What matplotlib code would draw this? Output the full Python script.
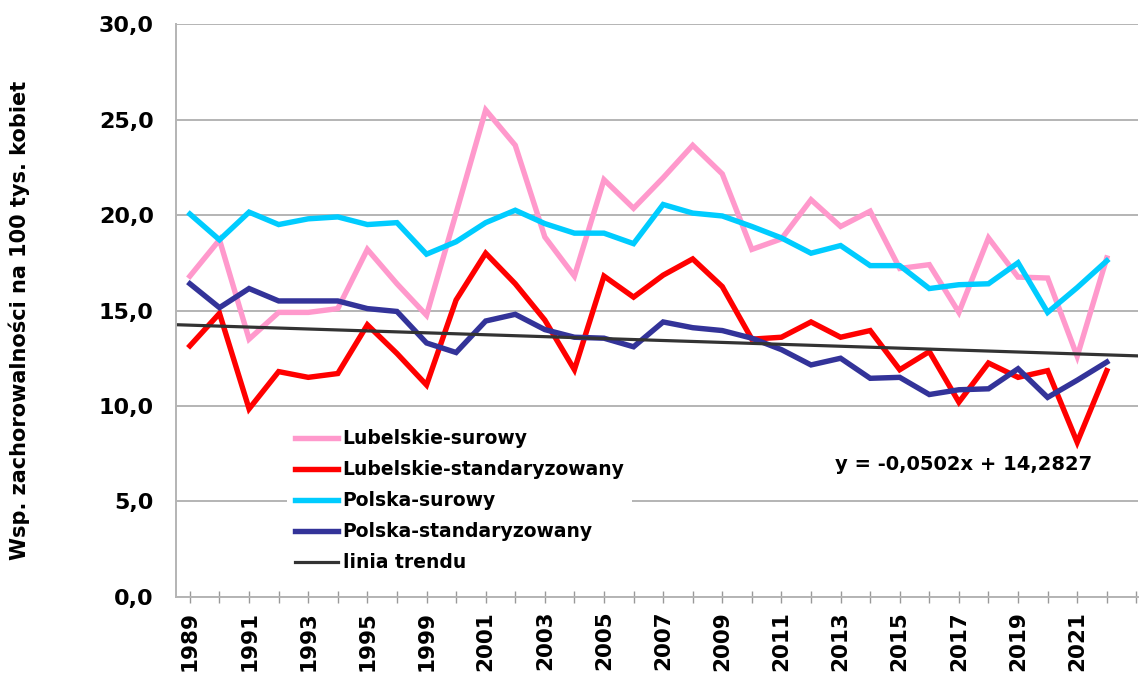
#! /usr/bin/env python
# -*- coding: utf-8 -*-

import matplotlib
matplotlib.use("Agg")
import matplotlib.pyplot as plt
import numpy as np

# lata (brak 1997 i 1998)
years = list(range(1989, 1997)) + list(range(1999, 2023))

lub_surowy = [16.8, 18.7, 13.5, 14.9, 14.9, 15.1, 18.2, 16.4, 14.75, 20.1, 25.5,
              23.65, 18.85, 16.8, 21.85, 20.35, 21.95, 23.65, 22.15, 18.2, 18.75,
              20.8, 19.4, 20.2, 17.2, 17.4, 14.9, 18.8, 16.75, 16.7, 12.6, 17.75]
lub_stand = [13.15, 14.85, 9.85, 11.8, 11.5, 11.7, 14.25, 12.75, 11.1, 15.55, 18.0,
             16.4, 14.5, 11.9, 16.8, 15.7, 16.85, 17.7, 16.25, 13.5, 13.6,
             14.4, 13.6, 13.95, 11.9, 12.85, 10.2, 12.25, 11.5, 11.85, 8.1, 11.85]
pl_surowy = [20.05, 18.7, 20.15, 19.5, 19.8, 19.9, 19.5, 19.6, 17.95, 18.6, 19.6,
             20.25, 19.55, 19.05, 19.05, 18.5, 20.55, 20.1, 19.95, 19.4, 18.8,
             18.0, 18.4, 17.35, 17.35, 16.15, 16.35, 16.4, 17.5, 14.9, 16.2, 17.6]
pl_stand = [16.4, 15.15, 16.15, 15.5, 15.5, 15.5, 15.1, 14.95, 13.3, 12.8, 14.45,
            14.8, 14.0, 13.6, 13.55, 13.1, 14.4, 14.1, 13.95, 13.55, 12.95,
            12.15, 12.5, 11.45, 11.5, 10.6, 10.85, 10.9, 11.95, 10.45, 11.35, 12.3]

trend_a = -0.0502
trend_b = 14.2827

labels = ["Lubelskie-surowy", "Lubelskie-standaryzowany", "Polska-surowy",
          "Polska-standaryzowany", "linia trendu"]
colors = ["#FF99CC", "#FF0000", "#00CCFF", "#333399", "#333333"]

plt.rcParams['font.family'] = ['DejaVu Sans']
plt.rcParams['font.weight'] = 'bold'

fig = plt.figure(figsize=(11.4, 6.75), dpi=100)
ax = fig.add_axes([0.1544, 0.1156, 0.8437, 0.8488])

x = np.arange(len(years))
for vals, lab, col in zip([lub_surowy, lub_stand, pl_surowy, pl_stand],
                          labels[:4], colors[:4]):
    ax.plot(x, vals, color=col, lw=3.9, label=lab, solid_joinstyle='miter')

xlim = (-0.47, 32.05)
xt = np.array(xlim)
# trend: x = 1 for first year
ax.plot(xt, trend_a * (xt + 1) + trend_b, color=colors[4], lw=2.3, label=labels[4])

ax.set_xlim(xlim)
ax.set_ylim(0, 30)
ax.set_yticks(np.arange(0, 31, 5))
ax.set_yticklabels([("%.1f" % v).replace(".", ",") for v in np.arange(0, 31, 5)],
                   fontsize=16, fontweight='bold')
ax.tick_params(axis='y', length=0, pad=16)

ticks = list(range(len(years) + 1))
ticklabels = [str(years[i]) if (i < len(years) and i % 2 == 0) else "" for i in ticks]
ax.set_xticks(ticks)
ax.set_xticklabels(ticklabels, rotation=90, fontsize=15.5, fontweight='bold')
ax.tick_params(axis='x', direction='inout', length=8, width=1, color='#999999', pad=6)

ax.grid(axis='y', color='#b4b4b4', lw=1.4)
ax.set_axisbelow(True)
for s in ['top', 'right']:
    ax.spines[s].set_visible(False)
ax.spines['left'].set_color('#b4b4b4')
ax.spines['bottom'].set_color('#b4b4b4')
ax.spines['left'].set_linewidth(1.4)
ax.spines['bottom'].set_linewidth(1.4)

ax.set_ylabel("Wsp. zachorowalności na 100 tys. kobiet", fontsize=15,
              fontweight='bold')
ax.yaxis.set_label_coords(-0.152, 0.483)

leg = ax.legend(loc='lower left', bbox_to_anchor=(0.106, 0.014), frameon=True,
                fontsize=13.5, handlelength=2.3, handletextpad=0.25,
                labelspacing=0.64, borderpad=0.4)
leg.get_frame().set_facecolor('white')
leg.get_frame().set_edgecolor('none')
leg.get_frame().set_alpha(1)
for t in leg.get_texts():
    t.set_fontweight('bold')

ax.text(0.685, 0.232, "y = -0,0502x + 14,2827", transform=ax.transAxes,
        fontsize=14, fontweight='bold', ha='left', va='center')

fig.savefig("out.png", dpi=100)
